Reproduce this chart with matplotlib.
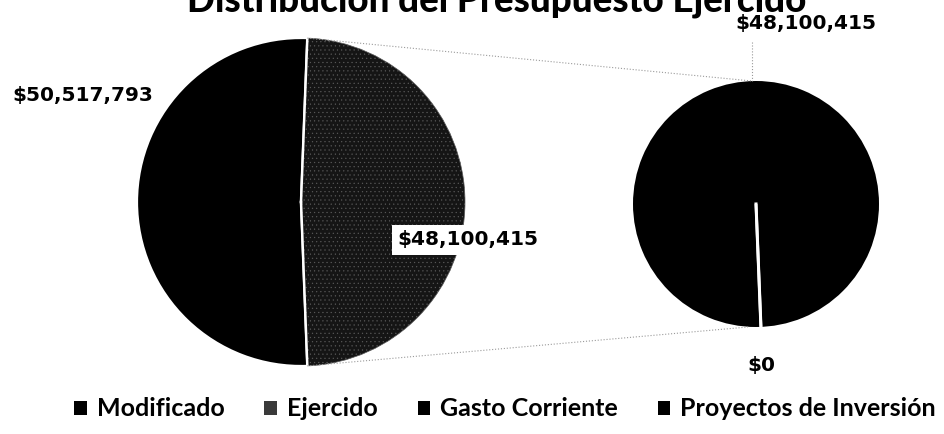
import matplotlib
matplotlib.use("Agg")
import matplotlib.pyplot as plt
from matplotlib.patches import Patch
import numpy as np

# data
main_labels = ["Modificado", "Ejercido"]
main_values = [50517793, 48100415]
sub_labels = ["Gasto Corriente", "Proyectos de Inversión"]
sub_values = [48100415, 0]
title = "Distribución del Presupuesto Ejercido"

W, H = 944, 434
plt.rcParams['hatch.linewidth'] = 0.35

fig = plt.figure(figsize=(W / 100, H / 100), dpi=100)
ax = fig.add_axes([0, 0, 1, 1])

def fy(y):
    return H - y

# main pie
c1 = (301, fy(202))
r1 = 164
start1 = 90 - (main_values[0] / sum(main_values) * 360 - 180) / 2
w1, _ = ax.pie(main_values, colors=['#000000', '#151515'], startangle=start1,
               counterclock=True, center=c1, radius=r1,
               wedgeprops=dict(edgecolor='white', linewidth=1.6))
w1[1].set_hatch('....')
w1[1].set_edgecolor('#5a5a5a')
w1[1].set_linewidth(0.5)
# split edges in white
end1 = start1 + main_values[0] / sum(main_values) * 360
for ang in (start1, end1):
    ax.plot([c1[0], c1[0] + r1 * np.cos(np.radians(ang))],
            [c1[1], c1[1] + r1 * np.sin(np.radians(ang))], color='white', lw=1.8)

# secondary pie
c2 = (756, fy(204))
r2 = 123
sub_start = -87.7
w2, _ = ax.pie(sub_values, colors=['#000000', '#000000'], startangle=sub_start,
               counterclock=True, center=c2, radius=r2,
               wedgeprops=dict(edgecolor='white', linewidth=2))
w2[0].set_edgecolor('none')
ax.plot([c2[0], c2[0] + r2 * np.cos(np.radians(sub_start))],
        [c2[1], c2[1] + r2 * np.sin(np.radians(sub_start))], color='white', lw=2.2)

# connector lines
p_top = (c1[0] + r1 * np.cos(np.radians(start1)), c1[1] + r1 * np.sin(np.radians(start1)))
p_bot = (c1[0] + r1 * np.cos(np.radians(end1)), c1[1] + r1 * np.sin(np.radians(end1)))
ax.plot([p_top[0], c2[0] - 4], [p_top[1], c2[1] + r2], color='#9a9a9a', lw=0.8, ls=':')
ax.plot([p_bot[0], c2[0] - 8], [p_bot[1], c2[1] - r2], color='#9a9a9a', lw=0.8, ls=':')
ax.plot([c2[0] - 4, c2[0] - 4], [fy(42), c2[1] + r2], color='#9a9a9a', lw=0.8, ls=':')

lab = dict(fontfamily='DejaVu Sans', fontweight='bold', fontsize=14.5, color='black',
           ha='center', va='center')
ax.text(83, fy(95), "$" + format(main_values[0], ","), **lab)
ax.text(468, fy(240), "$" + format(main_values[1], ","),
        bbox=dict(facecolor='white', edgecolor='none', pad=4), **lab)
ax.text(806, fy(24), "$" + format(sub_values[0], ","), **lab)
ax.text(761, fy(365), "$" + format(sub_values[1], ","), **lab)

ax.set_xlim(0, W)
ax.set_ylim(0, H)
ax.set_aspect('equal')
ax.axis('off')

fig.text(497 / W, 1 - 11 / H, title, ha='center', va='baseline',
         fontfamily='Lato', fontweight='black', fontsize=26.5)

handles = [Patch(facecolor='#000000'), Patch(facecolor='#3a3a3a'),
           Patch(facecolor='#000000'), Patch(facecolor='#000000')]
fig.legend(handles, main_labels + sub_labels, loc='center', ncol=4,
           bbox_to_anchor=(505 / W, 1 - 409 / H), frameon=False,
           handlelength=0.5, handleheight=0.5, handletextpad=0.4,
           columnspacing=1.6,
           prop=dict(family='Lato', weight='bold', size=18))

fig.savefig("out.png", dpi=100)
